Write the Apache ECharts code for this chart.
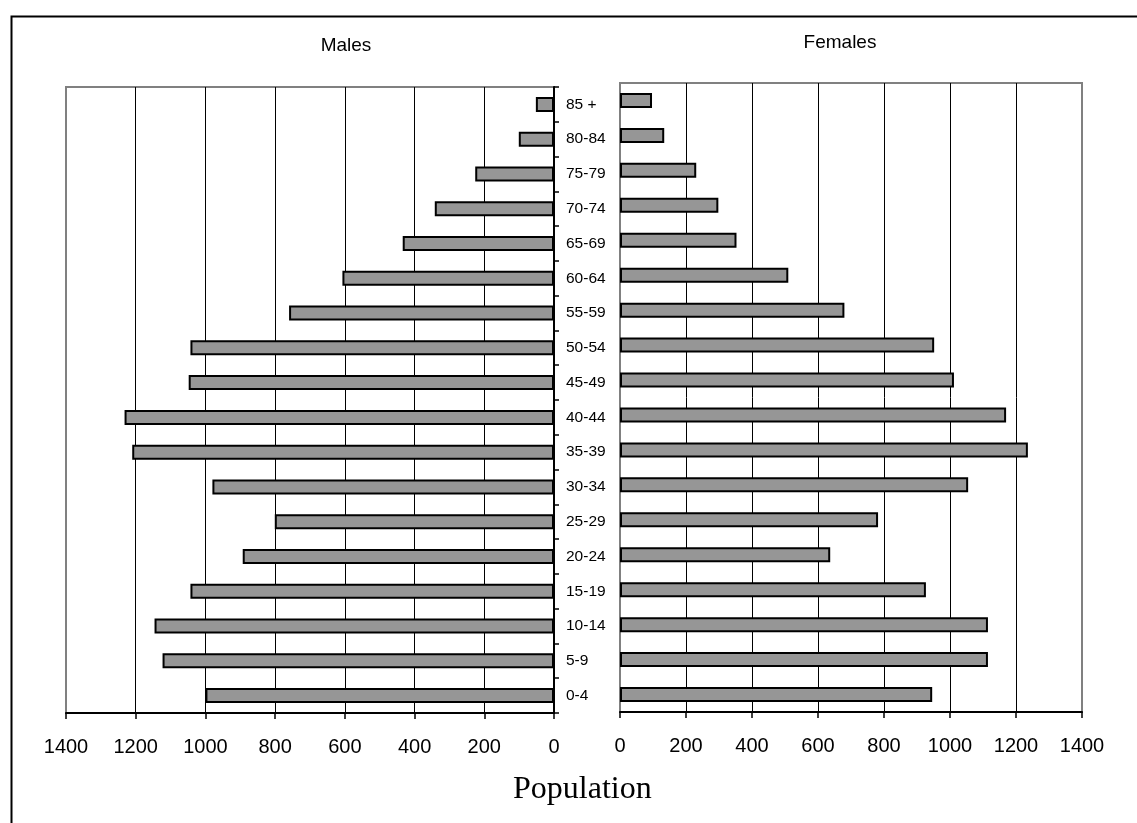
<!DOCTYPE html>
<html>
<head>
<meta charset="utf-8">
<script src="https://cdn.jsdelivr.net/npm/echarts@6/dist/echarts.min.js"></script>
<style>html,body{margin:0;padding:0;background:#fff;}#c{width:1137px;height:823px;}</style>
</head>
<body>
<div id="c"></div>
<script>
const categories = ['0-4','5-9','10-14','15-19','20-24','25-29','30-34','35-39','40-44','45-49','50-54','55-59','60-64','65-69','70-74','75-79','80-84','85 +'];
const males = [1000,1123,1146,1043,893,801,980,1210,1232,1048,1043,760,607,434,342,226,101,52];
const females = [946,1115,1115,927,637,782,1055,1236,1170,1012,952,680,510,353,298,231,134,97];
const xTicks = [0,200,400,600,800,1000,1200,1400];

const chart = echarts.init(document.getElementById('c'));
const sans = 'Liberation Sans, Arial, sans-serif';
const valueAxisBase = {
  type: 'value', min: xTicks[0], max: xTicks[xTicks.length-1], interval: xTicks[1]-xTicks[0],
  axisLine: {show: true, lineStyle: {color: '#000', width: 2}},
  axisTick: {show: true, length: 6, lineStyle: {color: '#000', width: 1.5}},
  axisLabel: {color: '#000', fontFamily: sans, fontSize: 20, margin: 24, formatter: function (v) { return String(v); }},
  splitLine: {show: true, showMinLine: false, showMaxLine: false, lineStyle: {color: '#000', width: 1}}
};
const barStyle = {color: '#969696', borderColor: '#000', borderWidth: 2};

chart.setOption({
  animation: false,
  backgroundColor: '#fff',
  title: [
    {text: 'Males', left: 346, top: 36, textAlign: 'center', padding: 0,
     textStyle: {fontFamily: sans, fontSize: 19, fontWeight: 'normal', color: '#000'}},
    {text: 'Females', left: 840, top: 33, textAlign: 'center', padding: 0,
     textStyle: {fontFamily: sans, fontSize: 19, fontWeight: 'normal', color: '#000'}}
  ],
  grid: [
    {left: 66, width: 488, top: 87, height: 626, show: true, borderColor: '#808080', borderWidth: 2, backgroundColor: 'transparent'},
    {left: 620, width: 462, top: 83, height: 629, show: true, borderColor: '#808080', borderWidth: 2, backgroundColor: 'transparent'}
  ],
  xAxis: [
    Object.assign({}, valueAxisBase, {gridIndex: 0, inverse: true}),
    Object.assign({}, valueAxisBase, {gridIndex: 1})
  ],
  yAxis: [
    {type: 'category', gridIndex: 0, data: categories, position: 'right',
     axisLine: {show: true, lineStyle: {color: '#000', width: 2}},
     axisTick: {show: true, length: 5, lineStyle: {color: '#000', width: 1.5}},
     axisLabel: {color: '#000', fontFamily: sans, fontSize: 15.5, margin: 12, align: 'left'},
     splitLine: {show: false}},
    {type: 'category', gridIndex: 1, data: categories,
     axisLine: {show: false}, axisTick: {show: false}, axisLabel: {show: false}, splitLine: {show: false}}
  ],
  series: [
    {name: 'Males', type: 'bar', xAxisIndex: 0, yAxisIndex: 0, data: males, barWidth: 15, itemStyle: barStyle},
    {name: 'Females', type: 'bar', xAxisIndex: 1, yAxisIndex: 1, data: females, barWidth: 15, itemStyle: barStyle}
  ],
  graphic: [
    {type: 'rect', left: 9, top: 14, shape: {x: 0, y: 0, width: 1200, height: 900},
     style: {fill: 'none', stroke: '#000', lineWidth: 2}, silent: true},
    {type: 'text', left: 513, top: 774, style: {text: 'Population', x: 0, y: 0,
     font: '32px "Liberation Serif", "Times New Roman", serif', fill: '#000'}}
  ]
});
</script>
</body>
</html>
